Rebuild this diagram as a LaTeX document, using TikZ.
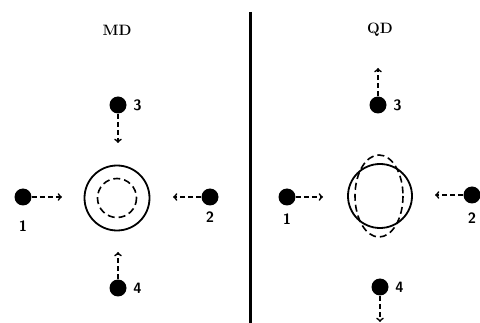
\documentclass[tikz,border=0pt]{standalone}
\usetikzlibrary{arrows}
\usetikzlibrary{positioning}

\begin{document}
\begin{tikzpicture}[x=1pt,y=-1pt,>=to,thick,
    ball/.style={circle,fill=black,inner sep=0pt,minimum size=17pt},
    num/.style={font=\sffamily\bfseries\fontsize{15}{15}\selectfont,inner sep=0pt},
    title/.style={font=\bfseries\fontsize{15}{18}\selectfont},
    move/.style={->,dash pattern=on 5pt off 3pt,line width=1.7pt}]
      \useasboundingbox (0,0) rectangle (480,323);

      % left half: MD
      \node [title] (md) at (117,30) {MD};
      \node [ball] (l1) at (23,197) {};
      \node [ball] (l2) at (210,197) {};
      \node [ball] (l3) at (118,105) {};
      \node [ball] (l4) at (118,288) {};
      \node [num] (l1n) at (23,226) {1};
      \node [num] (l2n) at (210,217) {2};
      \node [num, right=6pt of l3] (l3n) {3};
      \node [num, right=6pt of l4] (l4n) {4};

      \coordinate (l1t) at (62,197);
      \coordinate (l2t) at (173,197);
      \coordinate (l3t) at (118,143);
      \coordinate (l4t) at (118,252);
      \draw[move] (l1) -- (l1t);
      \draw[move] (l2) -- (l2t);
      \draw[move] (l3) -- (l3t);
      \draw[move] (l4) -- (l4t);

      \draw[line width=1.8pt] (117,198) circle (32.5);
      \draw[line width=1.6pt, dash pattern=on 7pt off 4pt] (117,198) circle (19.5);

      % divider
      \draw[line width=3pt] (250,12) -- (250,323);

      % right half: QD
      \node [title] (qd) at (380,30) {QD};
      \node [ball] (r1) at (287,197) {};
      \node [ball] (r2) at (472,195) {};
      \node [ball] (r3) at (378,105) {};
      \node [ball] (r4) at (380,287) {};
      \node [num] (r1n) at (287,219) {1};
      \node [num] (r2n) at (472,218) {2};
      \node [num, right=6pt of r3] (r3n) {3};
      \node [num, right=6pt of r4] (r4n) {4};

      \coordinate (r1t) at (323,197);
      \coordinate (r2t) at (435,195);
      \coordinate (r3t) at (378,68);
      \coordinate (r4t) at (380,322);
      \draw[move] (r1) -- (r1t);
      \draw[move] (r2) -- (r2t);
      \draw[move] (r3) -- (r3t);
      \draw[move] (r4) -- (r4t);

      \draw[line width=1.8pt] (380,196) circle (32);
      \draw[line width=1.6pt, dash pattern=on 7pt off 4pt] (379,196) ellipse (24 and 41);
\end{tikzpicture}
\end{document}
